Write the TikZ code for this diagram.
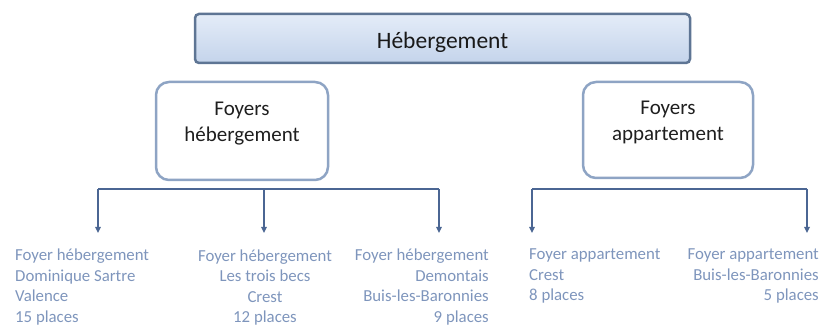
\documentclass[tikz,border=0pt]{standalone}
\usepackage{fontspec}
\setmainfont{Carlito}
\usetikzlibrary{arrows.meta}
\definecolor{headtop}{HTML}{E4ECF8}
\definecolor{headbottom}{HTML}{C4D4EB}
\definecolor{headline}{HTML}{5E7594}
\definecolor{groupline}{HTML}{8EA4C4}
\definecolor{linkcol}{HTML}{4B6693}
\definecolor{leafcol}{HTML}{7E95BC}
\tikzset{
  headbox/.style={draw=headline, line width=2.5pt, rounded corners=4pt,
    top color=headtop, bottom color=headbottom,
    minimum width=495pt, minimum height=49pt, inner sep=0pt,
    text height=21pt, text depth=0pt,
    font=\fontsize{23.5}{26}\selectfont, text=black!90},
  groupbox/.style={draw=groupline, line width=2.5pt, rounded corners=13pt,
    fill=white, inner sep=0pt, align=center, text depth=19pt,
    font=\fontsize{21}{26}\selectfont, text=black!88},
  bar/.style={draw=linkcol, line width=2pt},
  drop/.style={draw=linkcol, line width=2pt, -{Triangle[length=6pt,width=5.5pt]}},
  leaf/.style={inner sep=0pt, text=leafcol, font=\fontsize{16.8}{20.5}\selectfont}
}
\begin{document}
\begin{tikzpicture}[x=1pt,y=-1pt]
  \useasboundingbox (0,0) rectangle (822,328);

  % top level
  \node[headbox] (root) at (442.5,38.5) {Hébergement};

  % the two groups
  \node[groupbox, minimum width=172pt, minimum height=98pt] (heb) at (242,131)
    {Foyers\\hébergement};
  \node[groupbox, minimum width=170pt, minimum height=96pt] (app) at (668,130)
    {Foyers\\appartement};

  % bar and drops under "Foyers hébergement"
  \coordinate (hL) at (98,189);
  \coordinate (hM) at (264,189);
  \coordinate (hR) at (439,189);
  \coordinate (hLe) at (98,233);
  \coordinate (hMe) at (264,233);
  \coordinate (hRe) at (439,233);
  \draw[bar] (hL) -- (hR);
  \draw[drop] (hL) -- (hLe);
  \draw[drop] (hM) -- (hMe);
  \draw[drop] (hR) -- (hRe);

  % bar and drops under "Foyers appartement"
  \coordinate (aL) at (532,189);
  \coordinate (aR) at (807,189);
  \coordinate (aLe) at (532,233);
  \coordinate (aRe) at (807,233);
  \draw[bar] (aL) -- (aR);
  \draw[drop] (aL) -- (aLe);
  \draw[drop] (aR) -- (aRe);

  % establishments
  \node[leaf, align=left, anchor=north west] (t1) at (15,249)
    {Foyer hébergement\\Dominique Sartre\\Valence\\15 places};
  \node[leaf, align=center, anchor=north] (t2) at (265,249.5)
    {Foyer hébergement\\Les trois becs\\Crest\\12 places};
  \node[leaf, align=right, anchor=north east] (t3) at (489,249)
    {Foyer hébergement\\Demontais\\Buis-les-Baronnies\\9 places};
  \node[leaf, align=left, anchor=north west] (t4) at (529,249)
    {Foyer appartement\\Crest\\8 places};
  \node[leaf, align=right, anchor=north east] (t5) at (819,249)
    {Foyer appartement\\Buis-les-Baronnies\\5 places};
\end{tikzpicture}
\end{document}
